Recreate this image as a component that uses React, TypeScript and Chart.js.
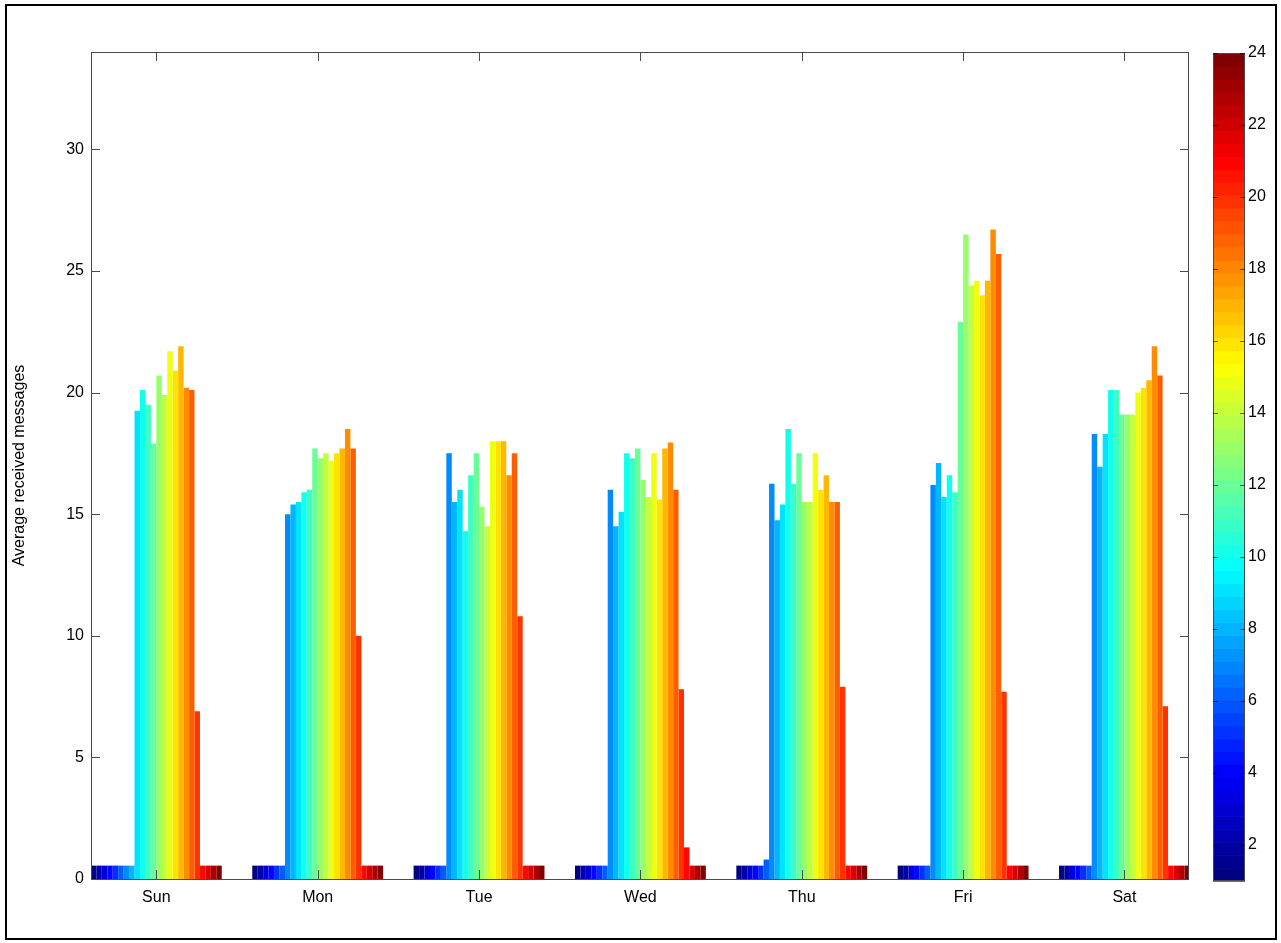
import React, { useEffect, useRef } from "react";
import { Chart, registerables } from "chart.js";

Chart.register(...registerables);

// ---------- data ----------
const dayLabels = ["Sun", "Mon", "Tue", "Wed", "Thu", "Fri", "Sat"];
const hourLabels = ["1", "2", "3", "4", "5", "6", "7", "8", "9", "10", "11", "12",
  "13", "14", "15", "16", "17", "18", "19", "20", "21", "22", "23", "24"];

// average received messages per hour (1..24) for each day
const sun = [0.55, 0.55, 0.55, 0.55, 0.55, 0.55, 0.55, 0.55, 19.25, 20.1, 19.5, 17.9,
  20.7, 19.9, 21.7, 20.9, 21.9, 20.2, 20.1, 6.9, 0.55, 0.55, 0.55, 0.55];
const mon = [0.55, 0.55, 0.55, 0.55, 0.55, 0.55, 15.0, 15.4, 15.5, 15.9, 16.0, 17.7,
  17.3, 17.5, 17.2, 17.5, 17.7, 18.5, 17.7, 10.0, 0.55, 0.55, 0.55, 0.55];
const tue = [0.55, 0.55, 0.55, 0.55, 0.55, 0.55, 17.5, 15.5, 16.0, 14.3, 16.6, 17.5,
  15.3, 14.5, 18.0, 18.0, 18.0, 16.6, 17.5, 10.8, 0.55, 0.55, 0.55, 0.55];
const wed = [0.55, 0.55, 0.55, 0.55, 0.55, 0.55, 16.0, 14.5, 15.1, 17.5, 17.3, 17.7,
  16.4, 15.7, 17.5, 15.6, 17.7, 17.95, 16.0, 7.8, 1.3, 0.55, 0.55, 0.55];
const thu = [0.55, 0.55, 0.55, 0.55, 0.55, 0.8, 16.25, 14.75, 15.4, 18.5, 16.25, 17.5,
  15.5, 15.5, 17.5, 16.0, 16.6, 15.5, 15.5, 7.9, 0.55, 0.55, 0.55, 0.55];
const fri = [0.55, 0.55, 0.55, 0.55, 0.55, 0.55, 16.2, 17.1, 15.7, 16.6, 15.9, 22.9,
  26.5, 24.4, 24.6, 24.0, 24.6, 26.7, 25.7, 7.7, 0.55, 0.55, 0.55, 0.55];
const sat = [0.55, 0.55, 0.55, 0.55, 0.55, 0.55, 18.3, 16.95, 18.3, 20.1, 20.1, 19.1,
  19.1, 19.1, 20.0, 20.2, 20.5, 21.9, 20.7, 7.1, 0.55, 0.55, 0.55, 0.55];

const yTicks = [0, 5, 10, 15, 20, 25, 30];
const colorbarTicks = [2, 4, 6, 8, 10, 12, 14, 16, 18, 20, 22, 24];
const Y_MIN = 0;
const Y_MAX = 34;
const X_MIN = 0.595;
const X_MAX = 7.4;
const CB_MIN = 1;
const CB_MAX = 24;

// ---------- helpers ----------
const FONT = "'Liberation Sans', Arial, Helvetica, sans-serif";

function clamp01(v: number) {
  return Math.max(0, Math.min(1, v));
}
function jet(t: number) {
  const r = clamp01(Math.min(4 * t - 1.5, -4 * t + 4.5));
  const g = clamp01(Math.min(4 * t - 0.5, -4 * t + 3.5));
  const b = clamp01(Math.min(4 * t + 0.5, -4 * t + 2.5));
  return `rgb(${Math.round(r * 255)},${Math.round(g * 255)},${Math.round(b * 255)})`;
}

const axesBoxPlugin = {
  id: "axesBox",
  afterDraw(chart: any) {
    const { ctx, chartArea: a, scales } = chart;
    ctx.save();
    ctx.strokeStyle = "#4a4a4a";
    ctx.lineWidth = 1;
    ctx.strokeRect(Math.round(a.left) + 0.5, Math.round(a.top) + 0.5,
      Math.round(a.right - a.left) - 1, Math.round(a.bottom - a.top));
    ctx.beginPath();
    const tl = 9;
    for (const v of yTicks) {
      const y = Math.round(scales.y.getPixelForValue(v)) + 0.5;
      ctx.moveTo(a.left, y);
      ctx.lineTo(a.left + tl, y);
      ctx.moveTo(a.right, y);
      ctx.lineTo(a.right - tl, y);
    }
    dayLabels.forEach((_, i) => {
      const x = Math.round(scales.x.getPixelForValue(i + 1)) + 0.5;
      ctx.moveTo(x, a.bottom);
      ctx.lineTo(x, a.bottom - tl);
      ctx.moveTo(x, a.top);
      ctx.lineTo(x, a.top + tl);
    });
    ctx.stroke();
    ctx.restore();
  },
};

const colorbarPlugin = {
  id: "colorbar",
  beforeDatasetsDraw(chart: any) {
    const { ctx, chartArea: a, scales } = chart;
    const y = scales.y;
    const n = 64;
    ctx.save();
    for (let j = 0; j < n; j++) {
      const v0 = CB_MIN + ((CB_MAX - CB_MIN) * j) / n;
      const v1 = CB_MIN + ((CB_MAX - CB_MIN) * (j + 1)) / n;
      const y0 = y.getPixelForValue(v0);
      const y1 = y.getPixelForValue(v1);
      ctx.fillStyle = jet(j / (n - 1));
      ctx.fillRect(a.left, y1, a.right - a.left, y0 - y1 + 0.6);
    }
    ctx.strokeStyle = "#4a4a4a";
    ctx.lineWidth = 1;
    ctx.strokeRect(a.left + 0.5, a.top + 0.5, a.right - a.left - 1, a.bottom - a.top - 1);
    ctx.beginPath();
    ctx.strokeStyle = "rgba(0,0,0,0.6)";
    for (const v of colorbarTicks) {
      const py = Math.round(y.getPixelForValue(v)) + 0.5;
      ctx.moveTo(a.left, py);
      ctx.lineTo(a.left + 5, py);
      ctx.moveTo(a.right, py);
      ctx.lineTo(a.right - 5, py);
    }
    ctx.stroke();
    ctx.restore();
  },
};

export default function App() {
  const mainRef = useRef<HTMLCanvasElement | null>(null);
  const cbRef = useRef<HTMLCanvasElement | null>(null);

  useEffect(() => {
    const days = [sun, mon, tue, wed, thu, fri, sat];
    const datasets = hourLabels.map((h, hi) => ({
      label: h,
      data: days.map((d, di) => ({ x: di + 1, y: d[hi] })),
      backgroundColor: jet(hi / 23),
      borderWidth: 0,
      categoryPercentage: 0.811,
      barPercentage: 1,
    }));

    const tickFont = { family: FONT, size: 16 };

    const main = new Chart(mainRef.current as HTMLCanvasElement, {
      type: "bar",
      data: { datasets } as any,
      plugins: [axesBoxPlugin],
      options: {
        animation: false,
        responsive: false,
        layout: { padding: { top: 52, right: 11, left: 0, bottom: 0 } },
        plugins: { legend: { display: false }, tooltip: { enabled: false } },
        scales: {
          x: {
            type: "linear",
            min: X_MIN,
            max: X_MAX,
            offset: false,
            grid: { display: false, drawTicks: false },
            border: { display: false },
            afterBuildTicks: (s: any) => {
              s.ticks = dayLabels.map((_, i) => ({ value: i + 1 }));
            },
            afterFit: (s: any) => {
              s.height = 64;
            },
            ticks: {
              autoSkip: false,
              maxRotation: 0,
              padding: 9,
              color: "#000",
              font: tickFont,
              callback: (v: any) => dayLabels[Math.round(Number(v)) - 1] ?? "",
            },
          },
          y: {
            min: Y_MIN,
            max: Y_MAX,
            grid: { display: false, drawTicks: false },
            border: { display: false },
            afterBuildTicks: (s: any) => {
              s.ticks = yTicks.map((v) => ({ value: v }));
            },
            afterFit: (s: any) => {
              s.width = 91;
            },
            ticks: { padding: 7, color: "#000", font: tickFont },
            title: {
              display: true,
              text: "Average received messages",
              color: "#000",
              font: { family: FONT, size: 16 },
              padding: { top: 10, bottom: 0 },
            },
          },
        },
      } as any,
    });

    const cb = new Chart(cbRef.current as HTMLCanvasElement, {
      type: "bar",
      data: { labels: [""], datasets: [] },
      plugins: [colorbarPlugin],
      options: {
        animation: false,
        responsive: false,
        layout: { padding: { top: 53, bottom: 62, left: 0, right: 0 } },
        plugins: { legend: { display: false }, tooltip: { enabled: false } },
        scales: {
          x: { display: false },
          y: {
            position: "right",
            min: CB_MIN,
            max: CB_MAX,
            grid: { display: false, drawTicks: false },
            border: { display: false },
            afterBuildTicks: (s: any) => {
              s.ticks = colorbarTicks.map((v) => ({ value: v }));
            },
            afterFit: (s: any) => {
              s.width = 36;
            },
            ticks: { padding: 3, color: "#000", font: tickFont },
          },
        },
      } as any,
    });

    return () => {
      main.destroy();
      cb.destroy();
    };
  }, []);

  return (
    <div style={{ position: "absolute", left: 0, top: 0, width: 1281, height: 943, background: "#fff" }}>
      <canvas
        ref={mainRef}
        width={1200}
        height={943}
        style={{ position: "absolute", left: 0, top: 0, width: 1200, height: 943 }}
      />
      <canvas
        ref={cbRef}
        width={68}
        height={943}
        style={{ position: "absolute", left: 1213, top: 0, width: 68, height: 943 }}
      />
      <div
        style={{
          position: "absolute",
          left: 5,
          top: 4,
          width: 1272,
          height: 936,
          border: "2px solid #000",
          boxSizing: "border-box",
          pointerEvents: "none",
        }}
      />
    </div>
  );
}
